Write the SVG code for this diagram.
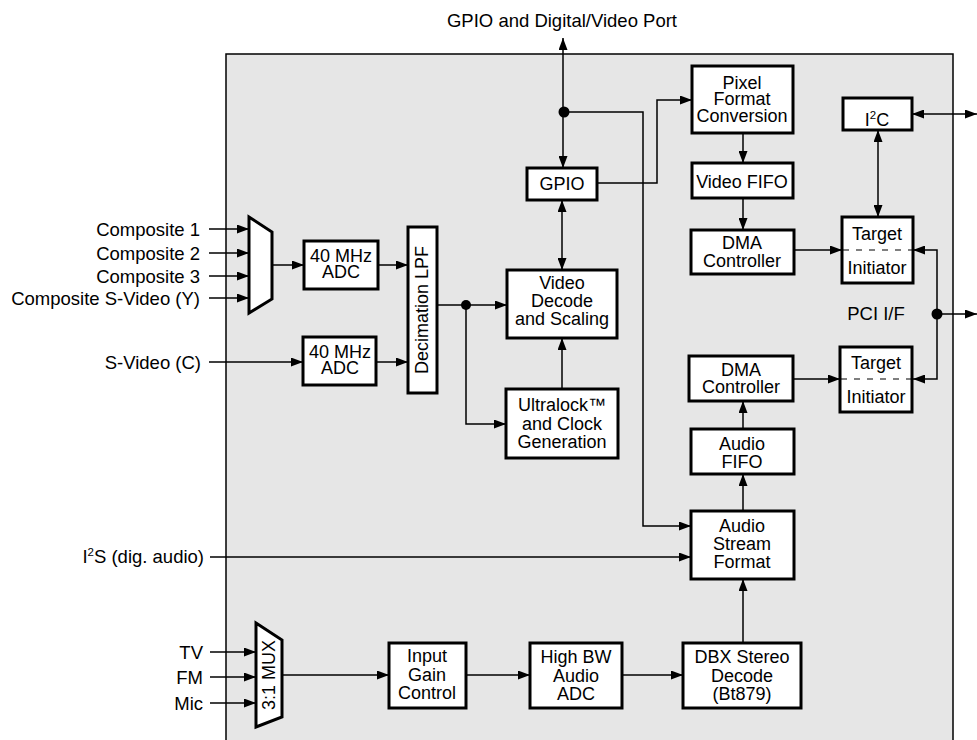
<svg xmlns="http://www.w3.org/2000/svg" width="977" height="740" viewBox="0 0 977 740">
<defs>
<style>
text{font-family:"Liberation Sans",Arial,Helvetica,sans-serif;font-size:18px;fill:#000}
.lab{font-size:18.5px}
.c{text-anchor:middle}
.r{text-anchor:end}
.box{fill:#fff;stroke:#000;stroke-width:3}
.w{fill:none;stroke:#000;stroke-width:1.5}
.dash{fill:none;stroke:#000;stroke-width:1.2;stroke-dasharray:6,7}
</style>
<marker id="a" markerUnits="userSpaceOnUse" markerWidth="13" markerHeight="9" refX="12" refY="4.5" orient="auto-start-reverse" viewBox="0 0 13 9">
<path d="M0,0 L12,4.5 L0,9 z" fill="#000"/>
</marker>
</defs>
<rect x="0" y="0" width="977" height="740" fill="#fff"/>
<rect id="chip" x="226" y="54" width="727" height="700" fill="#e6e6e6" stroke="#000" stroke-width="1.5"/>

<g id="labels">
<text class="c lab" x="562" y="27">GPIO and Digital/Video Port</text>
<text class="r lab" x="200" y="236">Composite 1</text>
<text class="r lab" x="200" y="260">Composite 2</text>
<text class="r lab" x="200" y="283">Composite 3</text>
<text class="r lab" x="200" y="305">Composite S-Video (Y)</text>
<text class="r lab" x="201" y="369">S-Video (C)</text>
<text class="r lab" x="204" y="563">I<tspan font-size="11.5" dy="-7">2</tspan><tspan dy="7">S (dig. audio)</tspan></text>
<text class="r lab" x="203" y="659">TV</text>
<text class="r lab" x="203" y="684">FM</text>
<text class="r lab" x="203" y="710">Mic</text>
<text class="c lab" x="876" y="320">PCI I/F</text>
</g>

<g id="connectors">
<path class="w" marker-end="url(#a)" d="M209,229 H249"/>
<path class="w" marker-end="url(#a)" d="M209,253 H249"/>
<path class="w" marker-end="url(#a)" d="M209,276 H249"/>
<path class="w" marker-end="url(#a)" d="M209,298 H249"/>
<path class="w" marker-end="url(#a)" d="M209,362 H303"/>
<path class="w" marker-end="url(#a)" d="M272,265 H304"/>
<path class="w" marker-end="url(#a)" d="M378,265 H408"/>
<path class="w" marker-end="url(#a)" d="M376,362 H408"/>
<path class="w" marker-end="url(#a)" d="M437,305 H507"/>
<path class="w" marker-end="url(#a)" d="M466,305 V424 H506"/>
<path class="w" marker-end="url(#a)" d="M562,389 V338"/>
<path class="w" marker-start="url(#a)" marker-end="url(#a)" d="M562,200 V270"/>
<path class="w" marker-start="url(#a)" marker-end="url(#a)" d="M563,38 V168"/>
<path class="w" marker-end="url(#a)" d="M563,112 H643 V526 H691"/>
<path class="w" marker-end="url(#a)" d="M597,183 H657 V100 H692"/>
<path class="w" marker-end="url(#a)" d="M743,133 V163"/>
<path class="w" marker-end="url(#a)" d="M743,198 V230"/>
<path class="w" marker-end="url(#a)" d="M794,250 H842"/>
<path class="w" marker-start="url(#a)" marker-end="url(#a)" d="M912,114 H977"/>
<path class="w" marker-start="url(#a)" marker-end="url(#a)" d="M878,130 V217"/>
<path class="w" marker-start="url(#a)" marker-end="url(#a)" d="M913,250 H937 V379 H913"/>
<path class="w" marker-end="url(#a)" d="M937,314 H977"/>
<path class="w" marker-end="url(#a)" d="M793,379 H840"/>
<path class="w" marker-end="url(#a)" d="M743,429 V401"/>
<path class="w" marker-end="url(#a)" d="M743,511 V474"/>
<path class="w" marker-end="url(#a)" d="M743,643 V579"/>
<path class="w" marker-end="url(#a)" d="M210,557 H691"/>
<path class="w" marker-end="url(#a)" d="M210,652 H256"/>
<path class="w" marker-end="url(#a)" d="M210,677 H256"/>
<path class="w" marker-end="url(#a)" d="M210,703 H256"/>
<path class="w" marker-end="url(#a)" d="M282,675 H389"/>
<path class="w" marker-end="url(#a)" d="M466,675 H530"/>
<path class="w" marker-end="url(#a)" d="M622,675 H683"/>
<circle cx="466" cy="305" r="5" fill="#000"/>
<circle cx="564" cy="112" r="5.5" fill="#000"/>
<circle cx="937" cy="314" r="5.5" fill="#000"/>
</g>

<g id="video-mux"><polygon class="box" stroke-width="2.5" points="249,217 272,232 272,299 249,313"/></g>

<g id="adc1"><rect class="box" x="304" y="241" width="74" height="48"/>
<text class="c" x="341" y="262">40 MHz</text><text class="c" x="341" y="278">ADC</text></g>

<g id="adc2"><rect class="box" x="303" y="337" width="73" height="48"/>
<text class="c" x="340" y="358">40 MHz</text><text class="c" x="340" y="374">ADC</text></g>

<g id="decimation-lpf"><rect class="box" x="408" y="227" width="29" height="166"/>
<text class="c" transform="translate(428,310) rotate(-90)">Decimation LPF</text></g>

<g id="video-decode"><rect class="box" x="507" y="270" width="110" height="68"/>
<text class="c" x="562" y="289">Video</text><text class="c" x="562" y="307">Decode</text><text class="c" x="562" y="325">and Scaling</text></g>

<g id="ultralock"><rect class="box" x="506" y="389" width="112" height="69"/>
<text class="c" x="562" y="411">Ultralock™</text><text class="c" x="562" y="430">and Clock</text><text class="c" x="562" y="448">Generation</text></g>

<g id="gpio"><rect class="box" x="527" y="168" width="70" height="32"/>
<text class="c" x="562" y="190">GPIO</text></g>

<g id="pixel-format"><rect class="box" x="692" y="66" width="101" height="67"/>
<text class="c" x="742" y="89">Pixel</text><text class="c" x="742" y="105">Format</text><text class="c" x="742" y="122">Conversion</text></g>

<g id="video-fifo"><rect class="box" x="692" y="163" width="101" height="35"/>
<text class="c" x="742" y="188">Video FIFO</text></g>

<g id="video-dma"><rect class="box" x="691" y="230" width="103" height="44"/>
<text class="c" x="742" y="249">DMA</text><text class="c" x="742" y="267">Controller</text></g>

<g id="i2c"><rect class="box" x="843" y="98" width="69" height="32"/>
<text class="c" x="877" y="126">I<tspan font-size="11.5" dy="-7">2</tspan><tspan dy="7">C</tspan></text></g>

<g id="target1"><rect class="box" x="842" y="217" width="71" height="66"/>
<line class="dash" x1="843" y1="250" x2="912" y2="250"/>
<text class="c" x="877" y="240">Target</text><text class="c" x="877" y="274">Initiator</text></g>

<g id="target2"><rect class="box" x="840" y="347" width="72" height="65"/>
<line class="dash" x1="841" y1="379" x2="911" y2="379"/>
<text class="c" x="876" y="369">Target</text><text class="c" x="876" y="403">Initiator</text></g>

<g id="audio-dma"><rect class="box" x="689" y="356" width="104" height="45"/>
<text class="c" x="741" y="376">DMA</text><text class="c" x="741" y="393">Controller</text></g>

<g id="audio-fifo"><rect class="box" x="691" y="429" width="103" height="45"/>
<text class="c" x="742" y="450">Audio</text><text class="c" x="742" y="468">FIFO</text></g>

<g id="audio-stream-format"><rect class="box" x="691" y="511" width="103" height="68"/>
<text class="c" x="742" y="532">Audio</text><text class="c" x="742" y="550">Stream</text><text class="c" x="742" y="568">Format</text></g>

<g id="audio-mux"><polygon class="box" stroke-width="2.5" points="256,623 282,640 282,717 256,727"/>
<text class="c" transform="translate(275,675) rotate(-90)">3:1 MUX</text></g>

<g id="input-gain"><rect class="box" x="389" y="643" width="77" height="65"/>
<text class="c" x="427" y="662">Input</text><text class="c" x="427" y="681">Gain</text><text class="c" x="427" y="699">Control</text></g>

<g id="high-bw-adc"><rect class="box" x="530" y="643" width="92" height="65"/>
<text class="c" x="576" y="663">High BW</text><text class="c" x="576" y="682">Audio</text><text class="c" x="576" y="700">ADC</text></g>

<g id="dbx-decode"><rect class="box" x="683" y="643" width="118" height="65"/>
<text class="c" x="742" y="663">DBX Stereo</text><text class="c" x="742" y="682">Decode</text><text class="c" x="742" y="700">(Bt879)</text></g>
</svg>
